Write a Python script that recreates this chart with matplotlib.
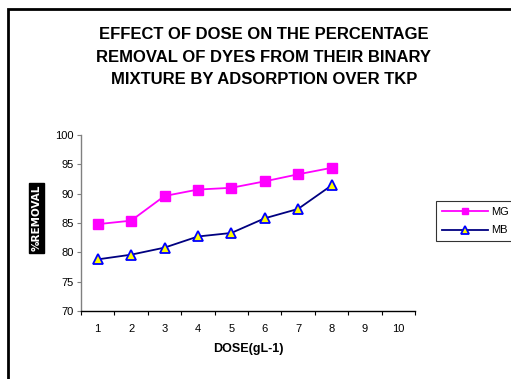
import matplotlib.pyplot as plt
from matplotlib.patches import Rectangle

plt.rcParams['font.family'] = ['Liberation Sans', 'DejaVu Sans']

dose = [1, 2, 3, 4, 5, 6, 7, 8]
mg_removal = [84.8, 85.4, 89.6, 90.7, 91.0, 92.1, 93.3, 94.4]
mb_removal = [78.8, 79.6, 80.8, 82.7, 83.3, 85.8, 87.4, 91.4]
dose_ticks = [1, 2, 3, 4, 5, 6, 7, 8, 9, 10]
title = 'EFFECT OF DOSE ON THE PERCENTAGE\nREMOVAL OF DYES FROM THEIR BINARY\nMIXTURE BY ADSORPTION OVER TKP'

fig = plt.figure(figsize=(5.11, 3.79), dpi=100)

# outer frame, only left and top edges visible
fig.patches.append(Rectangle((8 / 511, -0.1), 1.2, 1.1 - 9 / 379, transform=fig.transFigure,
                             fill=False, edgecolor='black', linewidth=2))

ax = fig.add_axes([81 / 511, 68 / 379, 334 / 511, 176 / 379])
mg, = ax.plot(dose, mg_removal, color='#FF00FF', linewidth=1.3, marker='s',
              markersize=6.5, markerfacecolor='#FF00FF', markeredgecolor='#FF00FF', label='MG')
mb, = ax.plot(dose, mb_removal, color='#000080', linewidth=1.3, marker='^',
              markersize=7.5, markerfacecolor='#FFFF00', markeredgecolor='#0000FF',
              markeredgewidth=1.3, label='MB')

ax.set_xlim(0.5, 10.5)
ax.set_ylim(70, 100)
ax.set_yticks(range(70, 101, 5))
# category-style axis: ticks between categories, labels in the middle
ax.set_xticks([x + 0.5 for x in range(0, 11)])
ax.set_xticklabels([])
ax.set_xticks(dose_ticks, minor=True)
ax.set_xticklabels([str(d) for d in dose_ticks], minor=True)
ax.tick_params(axis='x', which='minor', length=0, pad=9, labelsize=8)
ax.tick_params(axis='x', which='major', length=3, direction='out', width=0.8)
ax.tick_params(axis='y', length=3, direction='out', width=0.8, labelsize=8, pad=2, color='#808080')

ax.spines['top'].set_visible(False)
ax.spines['right'].set_visible(False)
ax.spines['left'].set_color('#808080')
ax.spines['left'].set_linewidth(1)
ax.spines['bottom'].set_color('black')
ax.spines['bottom'].set_linewidth(1)

ax.set_xlabel('DOSE(gL-1)', fontsize=9, fontweight='bold', labelpad=7)

fig.text(36.5 / 511, 1 - 218 / 379, '%REMOVAL', rotation=90, ha='center', va='center',
         fontsize=7.5, fontweight='bold', color='white', family='DejaVu Sans',
         bbox=dict(facecolor='black', edgecolor='black', pad=1.5))

fig.text(264 / 511, 1 - 57 / 379, title, ha='center', va='center', fontsize=12,
         fontweight='bold', linespacing=1.6)

leg = fig.legend(handles=[mg, mb], loc='center left', bbox_to_anchor=(436 / 511, 1 - 221 / 379),
                 fontsize=8, frameon=True, fancybox=False, edgecolor='black',
                 handlelength=4.2, borderpad=0.5, labelspacing=0.8, handletextpad=0.3,
                 borderaxespad=0, markerscale=0.7)
leg.get_frame().set_linewidth(0.8)

fig.savefig('out.png', dpi=100)
